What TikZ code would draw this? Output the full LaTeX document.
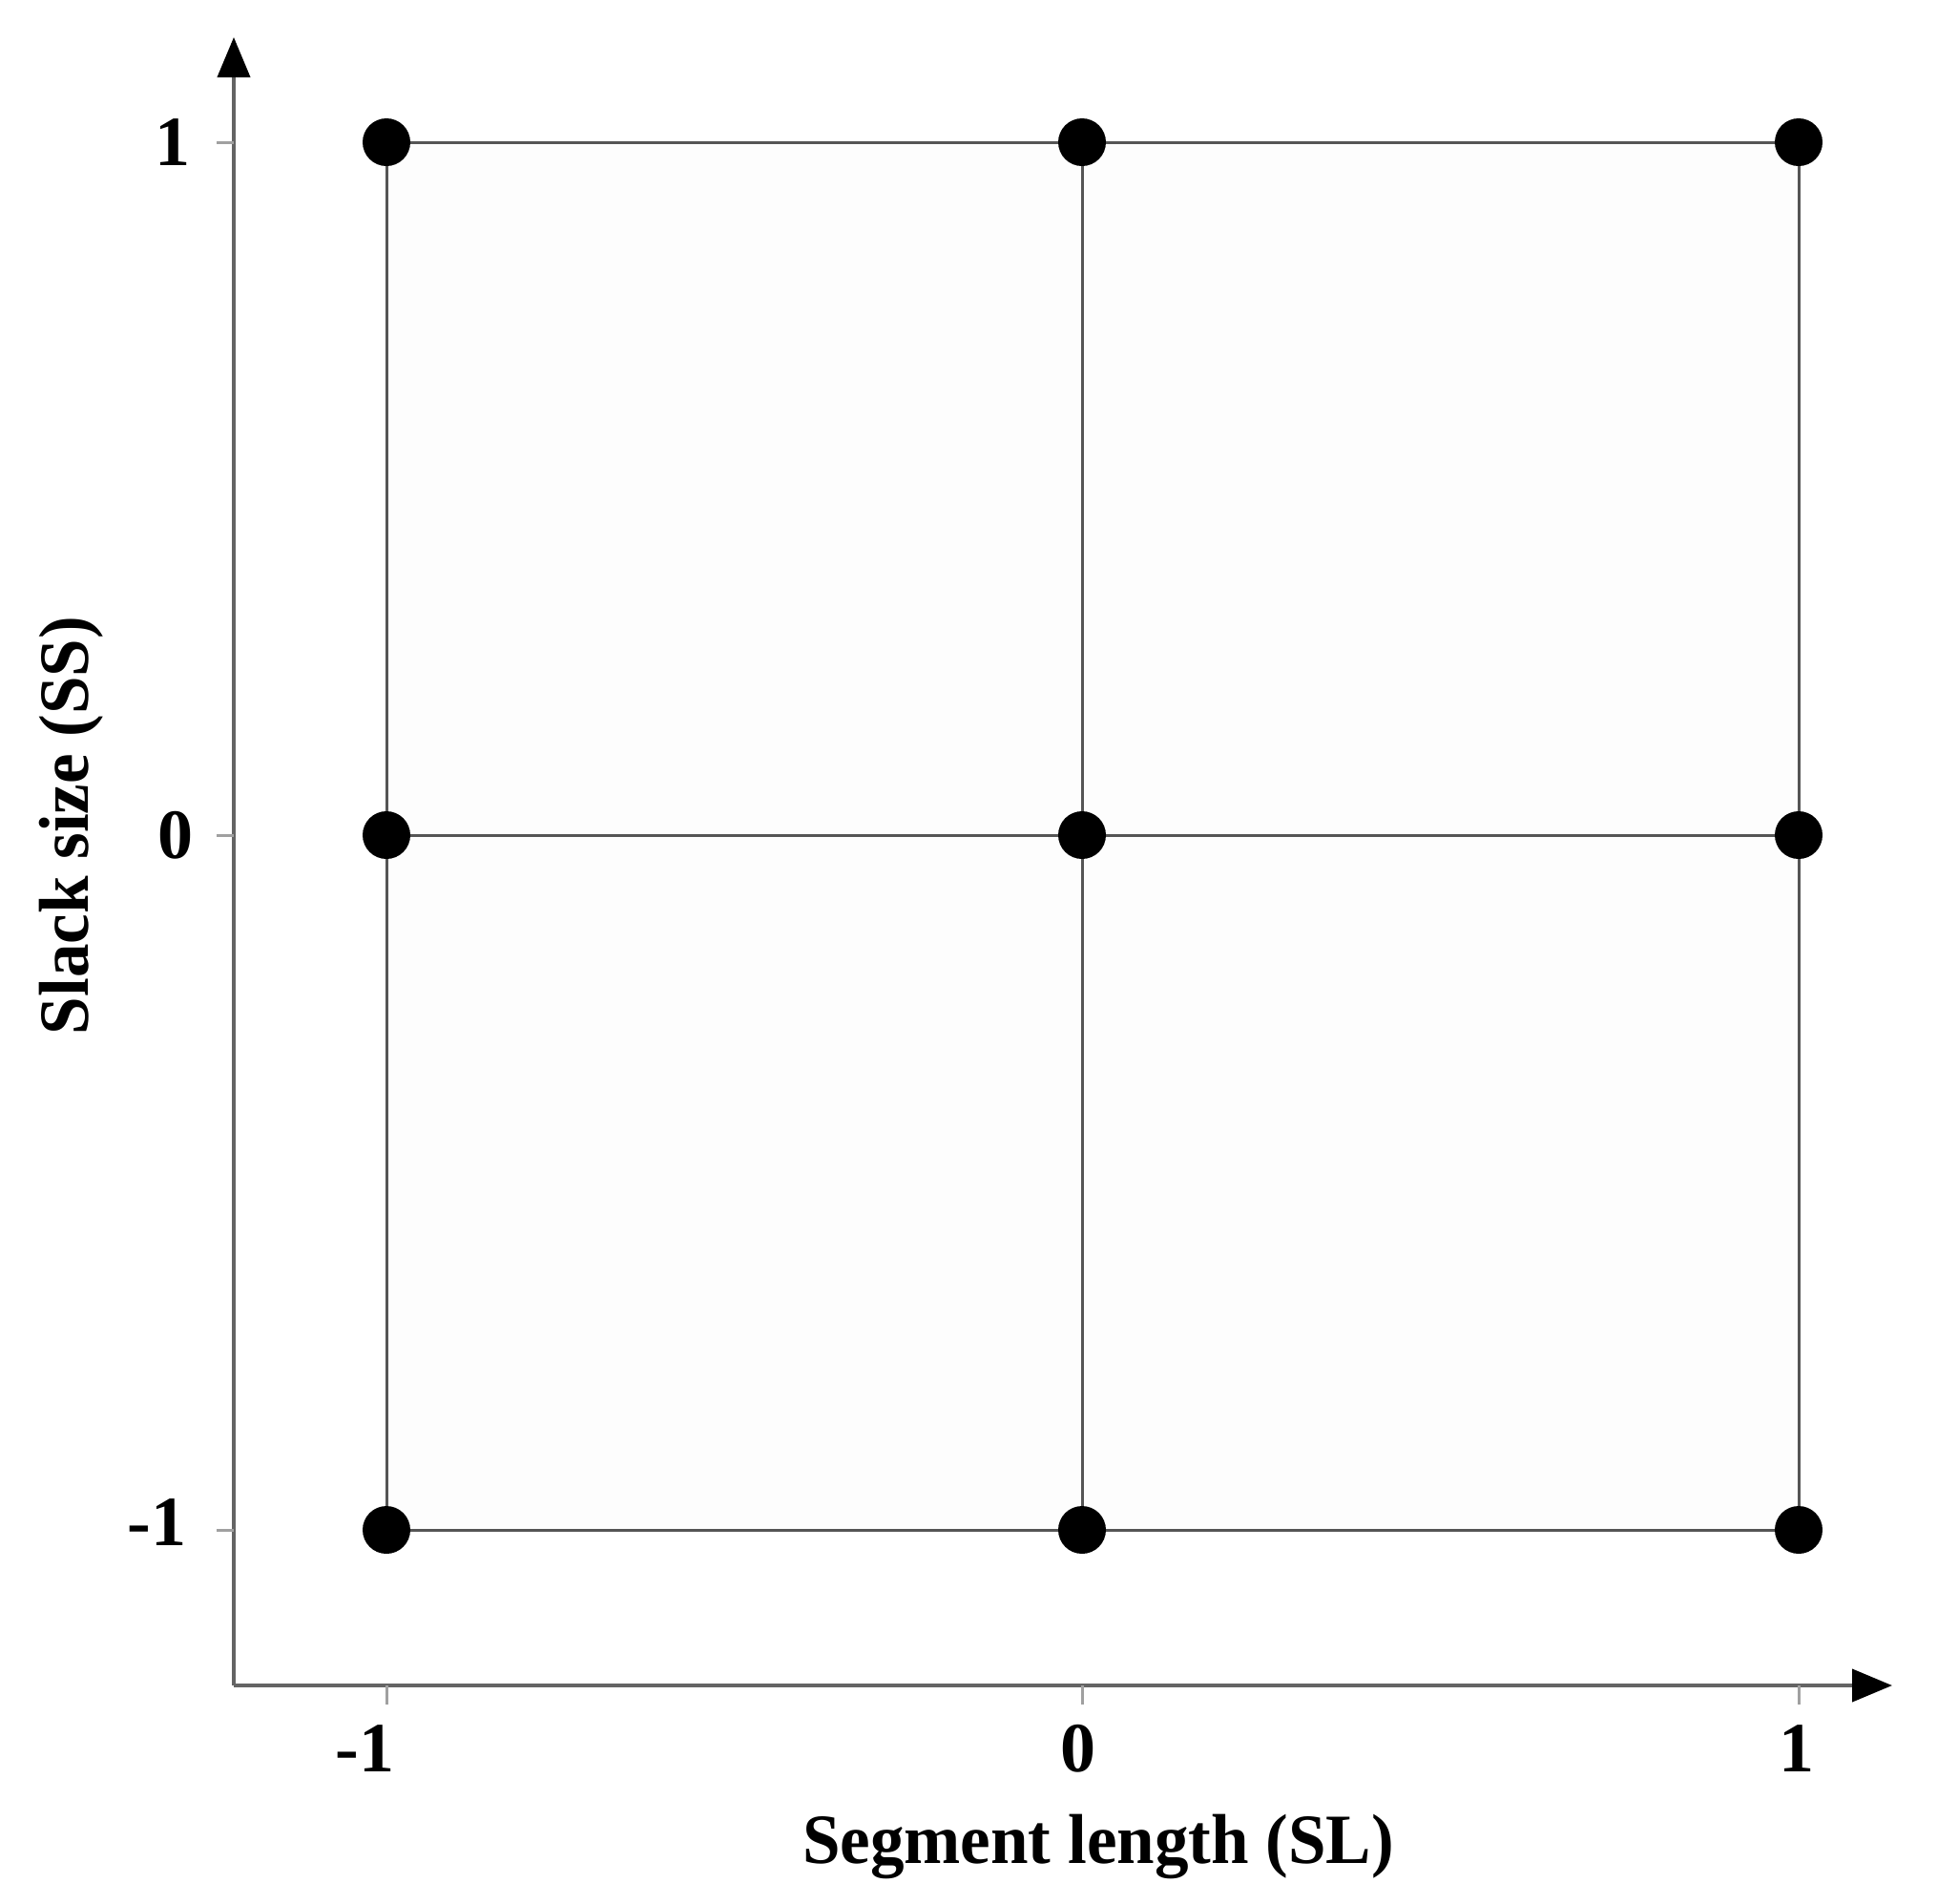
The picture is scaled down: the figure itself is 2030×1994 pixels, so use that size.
\documentclass[tikz,border=0pt]{standalone}
\usepackage{fontspec}
\setmainfont{Liberation Serif}
\usetikzlibrary{arrows.meta}
\definecolor{gridc}{RGB}{85,85,85}
\definecolor{axisc}{RGB}{100,100,100}
\definecolor{tickc}{RGB}{160,160,160}
\definecolor{innerc}{RGB}{253,253,253}
\tikzset{
  dot/.style={circle,fill=black,inner sep=0pt,minimum size=25pt},
  gridline/.style={draw=gridc,line width=1.5pt},
  axisline/.style={draw=axisc,line width=2pt,-{Triangle[length=21pt,width=17pt,black]}},
  tickmark/.style={draw=tickc,line width=1.5pt},
  ticklabel/.style={font=\fontsize{37}{40}\selectfont\bfseries,inner sep=0pt},
  axislabel/.style={font=\fontsize{37}{40}\selectfont\bfseries,inner sep=0pt}
}
\begin{document}
\begin{tikzpicture}[x=0.5pt,y=-0.5pt]
\useasboundingbox (0,0) rectangle (2030,1994);
\fill[white] (0,0) rectangle (2030,1994);
% grid coordinates
\coordinate (c11) at (405,149);
\coordinate (c12) at (1134,149);
\coordinate (c13) at (1885,149);
\coordinate (c21) at (405,875);
\coordinate (c22) at (1134,875);
\coordinate (c23) at (1885,875);
\coordinate (c31) at (405,1603);
\coordinate (c32) at (1134,1603);
\coordinate (c33) at (1885,1603);
\fill[innerc] (c11) rectangle (c33);
% grid lines
\draw[gridline] (c11) -- (c13);
\draw[gridline] (c21) -- (c23);
\draw[gridline] (c31) -- (c33);
\draw[gridline] (c11) -- (c31);
\draw[gridline] (c12) -- (c32);
\draw[gridline] (c13) -- (c33);
% axes
\coordinate (O) at (245,1766);
\coordinate (ytop) at (245,39);
\coordinate (xend) at (1983,1766);
\draw[axisline] (O) -- (ytop);
\draw[axisline] (O) -- (xend);
% ticks
\coordinate (ty1) at (227,149);
\coordinate (ty2) at (227,875);
\coordinate (ty3) at (227,1603);
\coordinate (ay1) at (245,149);
\coordinate (ay2) at (245,875);
\coordinate (ay3) at (245,1603);
\draw[tickmark] (ty1) -- (ay1);
\draw[tickmark] (ty2) -- (ay2);
\draw[tickmark] (ty3) -- (ay3);
\coordinate (ax1) at (405,1766);
\coordinate (ax2) at (1134,1766);
\coordinate (ax3) at (1885,1766);
\coordinate (tx1) at (405,1786);
\coordinate (tx2) at (1134,1786);
\coordinate (tx3) at (1885,1786);
\draw[tickmark] (ax1) -- (tx1);
\draw[tickmark] (ax2) -- (tx2);
\draw[tickmark] (ax3) -- (tx3);
% dots
\node[dot] (p11) at (c11) {};
\node[dot] (p12) at (c12) {};
\node[dot] (p13) at (c13) {};
\node[dot] (p21) at (c21) {};
\node[dot] (p22) at (c22) {};
\node[dot] (p23) at (c23) {};
\node[dot] (p31) at (c31) {};
\node[dot] (p32) at (c32) {};
\node[dot] (p33) at (c33) {};
% tick labels
\node[ticklabel] (ly1) at (181,149) {1};
\node[ticklabel] (ly2) at (184,875) {0};
\node[ticklabel,anchor=east] (ly3) at (196,1595) {-1};
\node[ticklabel,anchor=east] (lx1) at (414,1832) {-1};
\node[ticklabel] (lx2) at (1130,1832) {0};
\node[ticklabel] (lx3) at (1883,1832) {1};
% axis labels
\node[axislabel] (xl) at (1151,1935) {\scalebox{0.96}[1]{Segment length (SL)}};
\node[axislabel,rotate=90] (yl) at (75,865) {\scalebox{0.96}[1]{Slack size (SS)}};
\end{tikzpicture}
\end{document}
